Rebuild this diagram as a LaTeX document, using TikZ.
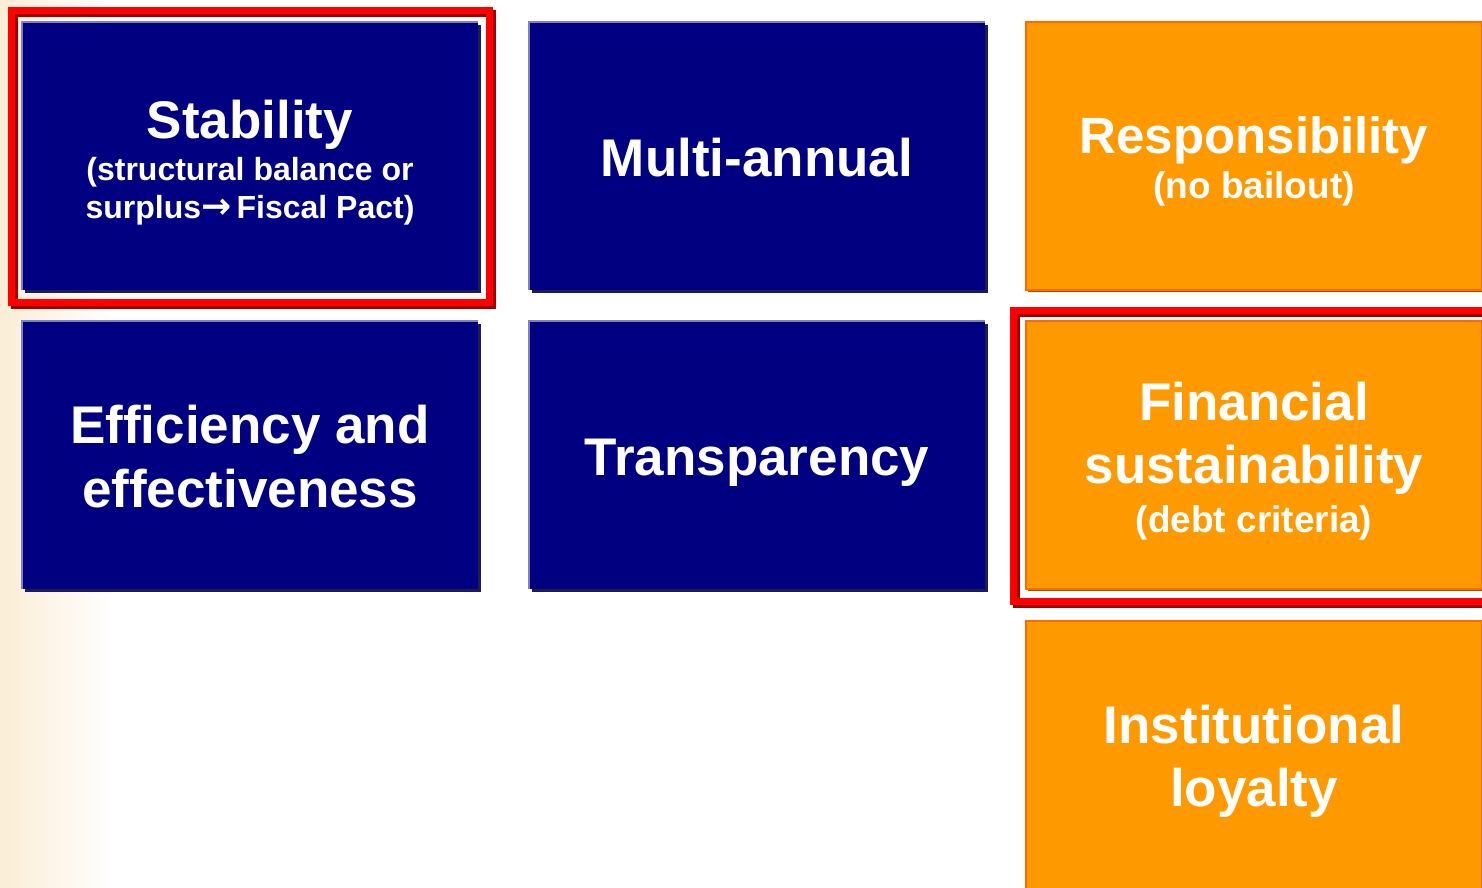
\documentclass[tikz,border=0pt]{standalone}
\usepackage{fontspec}
\setmainfont{Liberation Sans}
\newfontfamily\arrowfont{DejaVu Sans}
\usetikzlibrary{shadows}
\definecolor{navy}{HTML}{000080}
\definecolor{navyedge}{HTML}{8080C0}
\definecolor{navyshadow}{HTML}{1C1C5C}
\definecolor{orng}{HTML}{FF9900}
\definecolor{orngedge}{HTML}{FF6A00}
\definecolor{orngshadow}{HTML}{A84E10}
\definecolor{framered}{HTML}{FF0000}
\definecolor{frameshadow}{HTML}{A00000}
\definecolor{beige}{HTML}{FBEDD6}
\tikzset{
  box/.style={rectangle, minimum width=456pt, minimum height=268pt, inner sep=0pt, outer sep=0pt},
  navybox/.style={box, fill=navy, drop shadow={shadow xshift=3pt, shadow yshift=-3pt, fill=navyshadow, opacity=1}},
  orangebox/.style={box, fill=orng, draw=orngedge, line width=1.5pt, drop shadow={shadow xshift=2pt, shadow yshift=-2pt, fill=orngshadow, opacity=1}},
  bigtxt/.style={text=white, anchor=base, inner sep=0pt, font=\fontsize{53}{64}\selectfont\bfseries},
  subtxt/.style={text=white, anchor=base, inner sep=0pt, font=\fontsize{32}{38}\selectfont\bfseries},
  subtxtlarge/.style={subtxt, font=\fontsize{37}{44}\selectfont\bfseries},
  redframe/.style={draw=framered, line width=7pt},
  redshadow/.style={draw=frameshadow, line width=7pt},
}
\begin{document}
\begin{tikzpicture}[x=1pt,y=-1pt]
\useasboundingbox (0,0) rectangle (1482,887);
\shade[left color=beige, right color=white] (0,0) rectangle (115,887);
% red frames (shadow then frame)
\draw[redshadow] (14,13) rectangle (492,305);
\draw[redframe] (11,10) rectangle (489,302);
\draw[redshadow] (1016,313) rectangle (1495,604);
\draw[redframe] (1013,310) rectangle (1492,601);
% navy boxes
\node[navybox] (stab) at (250,156) {};
\node[navybox] (multi) at (757,156) {};
\node[navybox] (eff) at (250,455) {};
\node[navybox] (trans) at (757,455) {};
\foreach \b in {stab,multi,eff,trans}{
  \draw[navyedge, line width=2pt] (\b.south west) -- (\b.north west) -- (\b.north east);
}
% orange boxes
\node[orangebox] (resp) at (1254,156) {};
\node[orangebox] (fin) at (1254,455) {};
\node[orangebox] (inst) at (1254,755) {};
% texts
\node[bigtxt] (t1) at (250,138) {Stability};
\node[subtxt] (t1a) at (250,180) {(structural balance or};
\node[subtxt] (t1b) at (250,218) {surplus{\arrowfont\bfseries\fontsize{36}{38}\selectfont→}\,Fiscal Pact)};
\node[bigtxt] (t2) at (757,176) {Multi-annual};
\node[bigtxt, font=\fontsize{51}{62}\selectfont\bfseries] (t3) at (1254,153) {Responsibility};
\node[subtxtlarge] (t3a) at (1254,198) {(no bailout)};
\node[bigtxt] (t4) at (250,443) {Efficiency and};
\node[bigtxt] (t4b) at (250,507) {effectiveness};
\node[bigtxt] (t5) at (757,475) {Transparency};
\node[bigtxt] (t6) at (1254,420) {Financial};
\node[bigtxt] (t6b) at (1254,483) {sustainability};
\node[subtxtlarge] (t6c) at (1254,532) {(debt criteria)};
\node[bigtxt] (t7) at (1254,743) {Institutional};
\node[bigtxt] (t7b) at (1254,806) {loyalty};
\end{tikzpicture}
\end{document}
